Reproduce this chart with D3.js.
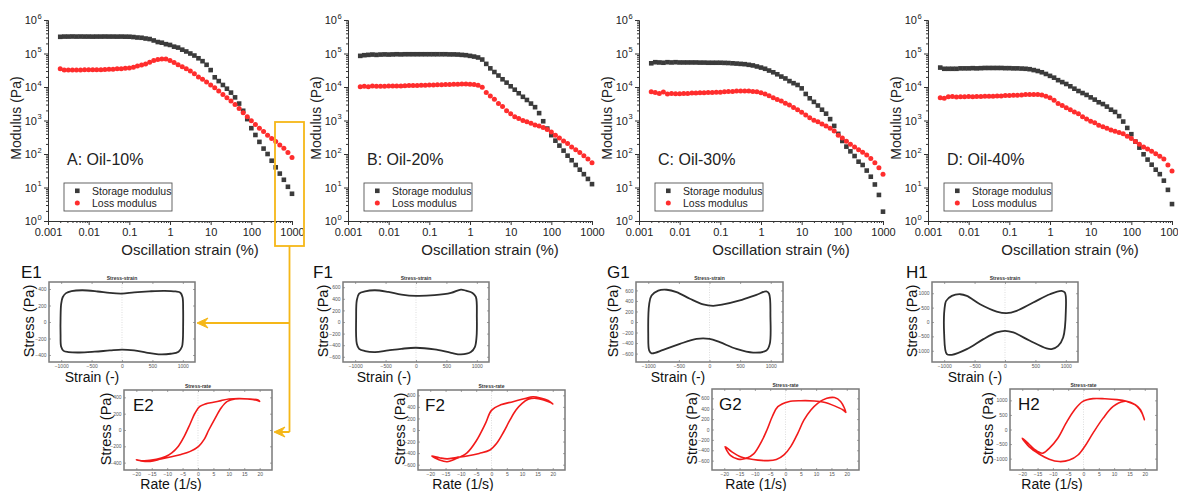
<!DOCTYPE html>
<html>
<head>
<meta charset="utf-8">
<script src="https://cdn.jsdelivr.net/npm/d3@7"></script>
<style>
  body { margin: 0; background: #fff; }
  svg { display: block; font-family: "Liberation Sans", Arial, sans-serif; }
</style>
</head>
<body>
<svg id="fig" width="1178" height="491"></svg>
<script>
// ---- amplitude sweep data (strain in %, moduli in Pa) ----
var strain = [0.002, 0.00251, 0.00316, 0.00398, 0.00501, 0.00631, 0.00794, 0.01, 0.0126, 0.0158,
  0.02, 0.0251, 0.0316, 0.0398, 0.0501, 0.0631, 0.0794, 0.1, 0.126, 0.158,
  0.2, 0.251, 0.316, 0.398, 0.501, 0.631, 0.794, 1, 1.26, 1.58,
  2, 2.51, 3.16, 3.98, 5.01, 6.31, 7.94, 10, 12.6, 15.8,
  20, 25.1, 31.6, 39.8, 50.1, 63.1, 79.4, 100, 126, 158,
  200, 251, 316, 398, 501, 631, 794, 1000];

var storageA = [3.15e5, 3.2e5, 3.2e5, 3.22e5, 3.2e5, 3.21e5, 3.2e5, 3.2e5, 3.19e5, 3.2e5,
  3.2e5, 3.21e5, 3.2e5, 3.2e5, 3.19e5, 3.2e5, 3.18e5, 3.17e5, 3.1e5, 3.0e5,
  2.95e5, 2.8e5, 2.7e5, 2.45e5, 2.2e5, 2.1e5, 1.9e5, 1.8e5, 1.6e5, 1.5e5,
  1.3e5, 1.15e5, 1.0e5, 8.7e4, 7.2e4, 5.9e4, 4.6e4, 3.2e4, 1.95e4, 1.5e4,
  1.15e4, 8.9e3, 6.8e3, 4.9e3, 3.2e3, 1.95e3, 1.1e3, 590, 370, 230,
  145, 100, 63, 40, 26, 17, 10.5, 6.5];
var lossA = [3.5e4, 3.2e4, 3.2e4, 3.2e4, 3.2e4, 3.2e4, 3.25e4, 3.3e4, 3.3e4, 3.3e4,
  3.3e4, 3.35e4, 3.4e4, 3.4e4, 3.5e4, 3.5e4, 3.6e4, 3.7e4, 3.9e4, 4.2e4,
  4.5e4, 4.9e4, 5.5e4, 6.2e4, 6.6e4, 6.9e4, 6.8e4, 6.2e4, 5.4e4, 4.6e4,
  4.0e4, 3.5e4, 3.0e4, 2.5e4, 2.0e4, 1.7e4, 1.4e4, 1.15e4, 9.5e3, 7.6e3,
  6.0e3, 4.8e3, 3.8e3, 3.0e3, 2.3e3, 1.7e3, 1.3e3, 980, 760, 590,
  470, 360, 290, 235, 186, 148, 110, 78];

var storageB = [8.5e4, 8.9e4, 9.1e4, 9.3e4, 9.1e4, 9.3e4, 9.4e4, 9.3e4, 9.4e4, 9.5e4,
  9.4e4, 9.5e4, 9.5e4, 9.5e4, 9.5e4, 9.5e4, 9.5e4, 9.5e4, 9.5e4, 9.5e4,
  9.5e4, 9.5e4, 9.4e4, 9.4e4, 9.3e4, 9.1e4, 8.9e4, 8.5e4, 8.1e4, 7.6e4,
  6.6e4, 4.9e4, 3.6e4, 2.8e4, 2.2e4, 1.7e4, 1.35e4, 1.05e4, 8.3e3, 6.5e3,
  5.1e3, 4.1e3, 3.2e3, 2.5e3, 1.66e3, 950, 575, 365, 250, 178,
  126, 89, 65, 47, 34, 25, 18, 12.6];
var lossB = [1.02e4, 1.05e4, 1.02e4, 1.07e4, 1.05e4, 1.06e4, 1.05e4, 1.07e4, 1.08e4, 1.07e4,
  1.08e4, 1.09e4, 1.1e4, 1.1e4, 1.11e4, 1.12e4, 1.13e4, 1.14e4, 1.15e4, 1.16e4,
  1.17e4, 1.18e4, 1.19e4, 1.2e4, 1.21e4, 1.22e4, 1.22e4, 1.21e4, 1.18e4, 1.13e4,
  9.8e3, 6.8e3, 5.4e3, 4.3e3, 3.2e3, 2.6e3, 1.95e3, 1.6e3, 1.3e3, 1.15e3,
  1.0e3, 910, 830, 740, 690, 620, 540, 450, 360, 300,
  245, 205, 162, 135, 110, 89, 71, 55];

var storageC = [5.1e4, 5.5e4, 5.4e4, 5.3e4, 5.5e4, 5.4e4, 5.5e4, 5.4e4, 5.4e4, 5.4e4,
  5.4e4, 5.4e4, 5.35e4, 5.35e4, 5.3e4, 5.3e4, 5.3e4, 5.3e4, 5.25e4, 5.2e4,
  5.1e4, 5.0e4, 4.9e4, 4.8e4, 4.6e4, 4.4e4, 4.1e4, 3.8e4, 3.5e4, 3.1e4,
  2.75e4, 2.4e4, 2.05e4, 1.8e4, 1.5e4, 1.3e4, 1.15e4, 9.1e3, 6.2e3, 4.6e3,
  3.6e3, 2.8e3, 2.1e3, 1.6e3, 1.1e3, 690, 400, 245, 166, 120,
  87, 59, 47, 32, 21, 12.3, 6.0, 1.9];
var lossC = [7.2e3, 6.8e3, 6.4e3, 7.1e3, 6.2e3, 6.4e3, 6.3e3, 6.3e3, 6.4e3, 6.4e3,
  6.6e3, 6.6e3, 6.7e3, 6.7e3, 6.9e3, 6.9e3, 7.0e3, 7.0e3, 7.2e3, 7.4e3,
  7.4e3, 7.6e3, 7.6e3, 7.6e3, 7.6e3, 7.4e3, 7.2e3, 6.7e3, 6.2e3, 5.5e3,
  4.8e3, 4.2e3, 3.8e3, 3.3e3, 2.9e3, 2.45e3, 2.1e3, 1.75e3, 1.45e3, 1.2e3,
  1.02e3, 910, 790, 680, 590, 490, 360, 300, 240, 195,
  162, 135, 112, 93, 74, 55, 39, 25];

var storageD = [3.8e4, 3.5e4, 3.5e4, 3.5e4, 3.5e4, 3.6e4, 3.6e4, 3.6e4, 3.65e4, 3.6e4,
  3.65e4, 3.7e4, 3.7e4, 3.7e4, 3.7e4, 3.7e4, 3.65e4, 3.65e4, 3.6e4, 3.6e4,
  3.55e4, 3.5e4, 3.4e4, 3.2e4, 3.0e4, 2.75e4, 2.45e4, 2.15e4, 1.9e4, 1.6e4,
  1.4e4, 1.23e4, 1.05e4, 8.9e3, 7.6e3, 6.6e3, 5.8e3, 4.9e3, 4.2e3, 3.5e3,
  3.1e3, 2.6e3, 2.1e3, 1.8e3, 1.35e3, 930, 600, 390, 235, 155,
  98, 68, 48, 34, 25, 16, 8.5, 3.2];
var lossD = [4.8e3, 4.6e3, 5.1e3, 5.2e3, 5.0e3, 5.1e3, 5.1e3, 5.2e3, 5.1e3, 5.2e3,
  5.2e3, 5.3e3, 5.3e3, 5.3e3, 5.4e3, 5.4e3, 5.6e3, 5.6e3, 5.7e3, 5.7e3,
  5.8e3, 6.0e3, 6.0e3, 6.0e3, 6.0e3, 5.8e3, 5.3e3, 4.8e3, 4.0e3, 3.2e3,
  2.8e3, 2.4e3, 2.1e3, 1.8e3, 1.6e3, 1.3e3, 1.1e3, 950, 850, 720,
  650, 590, 520, 480, 440, 400, 340, 290, 235, 195,
  162, 141, 120, 102, 85, 71, 47, 31];

// ---- Lissajous loops: [x, stress (Pa)] ----
var loopE1 = [[-1000,-300],[-1010,-150],[-1010,50],[-1000,220],[-975,300],[-920,350],[-830,375],[-650,385],
  [-400,370],[-200,352],[0,345],[200,360],[450,372],[700,378],[880,370],[960,355],[995,300],[1005,150],
  [1005,-50],[1000,-220],[985,-300],[930,-360],[800,-385],[600,-392],[400,-370],[200,-345],[0,-335],
  [-200,-345],[-450,-360],[-700,-370],[-880,-365],[-960,-350]];
var loopF1 = [[-973,-375],[-984,87],[-973,375],[-935,490],[-837,530],[-674,548],[-457,519],[-239,473],
  [0,450],[304,462],[576,502],[739,560],[821,540],[929,502],[984,433],[1000,87],[995,-260],[967,-433],
  [902,-519],[739,-560],[576,-531],[304,-473],[0,-444],[-239,-462],[-457,-490],[-674,-519],[-837,-502],[-935,-462]];
var loopG1 = [[-1000,-225],[-984,346],[-946,502],[-837,597],[-700,613],[-538,568],[-320,441],[-103,333],
  [60,308],[223,333],[495,409],[766,517],[929,581],[973,537],[995,92],[984,-416],[929,-543],[712,-581],
  [440,-511],[168,-384],[0,-321],[-212,-321],[-484,-416],[-755,-530],[-946,-594],[-984,-543]];
var loopH1 = [[-1000,-422],[-984,618],[-967,734],[-874,907],[-738,965],[-628,907],[-410,618],[-137,364],
  [27,306],[191,387],[464,676],[738,965],[929,1081],[984,1023],[1000,387],[956,-538],[874,-827],[765,-942],
  [683,-919],[410,-653],[137,-364],[0,-306],[-137,-364],[-355,-595],[-628,-942],[-874,-1139],[-956,-1116]];

var loopE2 = [[-20,-365],[-17.5,-378],[-13.5,-360],[-10.5,-325],[-8.5,-280],[-6.5,-205],[-4.5,-80],[-2.5,80],
  [-1,205],[0.5,285],[2.5,320],[5,340],[7.5,360],[10,380],[13.5,385],[17,378],[19.5,368],[20,350],[19,365],
  [16,380],[12,380],[9.5,350],[7.5,270],[5.5,140],[3.5,0],[2,-115],[0.2,-200],[-2.5,-262],[-5.5,-300],
  [-9,-330],[-12,-355],[-15.5,-385],[-18.5,-378]];
var loopF2 = [[-19.5,-450],[-17,-520],[-14.5,-550],[-11.5,-495],[-8,-395],[-5,-190],[-2,110],[0,340],[3,435],
  [7,490],[11,545],[13.5,575],[16,555],[18.5,510],[20,450],[19.5,470],[17,520],[14,550],[12,530],[10,460],
  [8,345],[6,170],[4,-30],[1.7,-230],[-0.5,-345],[-4,-405],[-8,-450],[-11.5,-475],[-14.5,-500],[-17,-480]];
var loopG2 = [[-19.7,-330],[-17.5,-430],[-14.5,-530],[-12,-565],[-9,-590],[-6,-600],[-3,-580],[-0.5,-490],
  [1.7,-330],[4,-75],[6,180],[8.3,375],[10.5,505],[13.5,600],[16,615],[18,540],[19.7,330],[18.7,380],
  [16,455],[12.6,525],[9.4,550],[5,555],[1,535],[-2.5,440],[-4.3,250],[-6,0],[-7.6,-205],[-10.4,-470],
  [-13,-560],[-15.5,-570],[-18,-500]];
var loopH2 = [[-20,-300],[-17.8,-590],[-14.5,-840],[-11.2,-1020],[-7.9,-1100],[-4.6,-1050],[-1.8,-875],
  [0.4,-585],[3.1,-125],[6.4,390],[9.7,790],[13.1,965],[15.3,935],[17.5,795],[19.1,565],[19.9,335],
  [18.6,680],[16.9,850],[14.1,965],[10.9,1025],[7,1055],[3.1,1060],[-0.2,965],[-2.9,680],[-5.7,220],
  [-8.4,-300],[-11.2,-645],[-13.4,-815],[-16,-680],[-18,-480]];

// ---- tick values / labels ----
var xMajors = [0.001, 0.01, 0.1, 1, 10, 100, 1000];
var yMajors = [1, 10, 100, 1000, 1e4, 1e5, 1e6];
var yExpLabels = ["0", "1", "2", "3", "4", "5", "6"];
var strainTicks = [-1000, -500, 0, 500, 1000];
var rateTicks = [-20, -15, -10, -5, 0, 5, 10, 15, 20];
var stressTicks400 = [-400, -200, 0, 200, 400];
var stressTicks600 = [-600, -400, -200, 0, 200, 400, 600];
var stressTicks1000 = [-1000, -500, 0, 500, 1000];

var svg = d3.select("#fig");
var dark = "#3b3b3b", red = "#ff2d2d", gold = "#f5b718";

function drawModulus(p) {
  var x = d3.scaleLog().domain([0.001, 1000]).range([p.left, p.left + 244]);
  var y = d3.scaleLog().domain([1, 1e6]).range([221, 20]);
  var g = svg.append("g");

  var minorX = [], minorY = [];
  xMajors.slice(0, -1).forEach(function(d) { for (var k = 2; k < 10; k++) minorX.push(d * k); });
  yMajors.slice(0, -1).forEach(function(d) { for (var k = 2; k < 10; k++) minorY.push(d * k); });

  g.append("g").attr("transform", "translate(0,221)")
    .call(d3.axisBottom(x).tickValues(minorX).tickSize(2).tickSizeOuter(0).tickFormat(""));
  var xa = g.append("g").attr("transform", "translate(0,221)")
    .call(d3.axisBottom(x).tickValues(xMajors).tickSize(4).tickSizeOuter(0).tickPadding(3).tickFormat(d3.format("~g")));
  xa.selectAll("text").attr("font-size", 11).attr("font-family", "Liberation Sans, Arial, sans-serif").attr("fill", "#222");

  g.append("g").attr("transform", "translate(" + p.left + ",0)")
    .call(d3.axisLeft(y).tickValues(minorY).tickSize(2).tickSizeOuter(0).tickFormat(""));
  g.append("g").attr("transform", "translate(" + p.left + ",0)")
    .call(d3.axisLeft(y).tickValues(yMajors).tickSize(4).tickSizeOuter(0).tickFormat(""));
  g.selectAll("path.domain, line").attr("stroke", "#333");

  // "10" and its exponent as two neighbouring texts
  yMajors.forEach(function(v, i) {
    g.append("text").attr("x", p.left - 11).attr("y", y(v) + 4)
      .attr("text-anchor", "end").attr("font-size", 11).attr("fill", "#222").text("10");
    g.append("text").attr("x", p.left - 10.5).attr("y", y(v) - 1.5)
      .attr("font-size", 7.5).attr("fill", "#222").text(yExpLabels[i]);
  });

  g.append("g").selectAll("rect").data(strain).join("rect")
    .attr("x", function(d) { return x(d) - 2.3; })
    .attr("y", function(d, i) { return y(p.storage[i]) - 2.3; })
    .attr("width", 4.6).attr("height", 4.6).attr("fill", dark);
  g.append("g").selectAll("circle").data(strain).join("circle")
    .attr("cx", function(d) { return x(d); })
    .attr("cy", function(d, i) { return y(p.loss[i]); })
    .attr("r", 2.5).attr("fill", red);

  // legend
  g.append("rect").attr("x", p.left + 16).attr("y", 183).attr("width", 108).attr("height", 28)
    .attr("fill", "#fff").attr("stroke", "#555").attr("stroke-width", 0.9);
  g.append("rect").attr("x", p.left + 27).attr("y", 188.5).attr("width", 4.6).attr("height", 4.6).attr("fill", dark);
  g.append("circle").attr("cx", p.left + 29.3).attr("cy", 203).attr("r", 2.5).attr("fill", red);
  g.append("text").attr("x", p.left + 44).attr("y", 195).attr("font-size", 10.5).attr("fill", "#222").text("Storage modulus");
  g.append("text").attr("x", p.left + 44).attr("y", 207).attr("font-size", 10.5).attr("fill", "#222").text("Loss modulus");

  g.append("text").attr("x", p.left + 19).attr("y", 165).attr("font-size", 16).attr("fill", "#222").text(p.label);

  g.append("text").attr("transform", "translate(" + (p.left - 32) + ",118) rotate(-90)")
    .attr("text-anchor", "middle").attr("dy", "0.35em").attr("font-size", 14).attr("fill", "#222")
    .text("Modulus (Pa)");
  g.append("text").attr("x", p.left + 142).attr("y", 255).attr("text-anchor", "middle")
    .attr("font-size", 15).attr("fill", "#222").text("Oscillation strain (%)");
}

function drawLoop(p) {
  var x = d3.scaleLinear().domain(p.xDom).range([p.x0, p.x1]);
  var y = d3.scaleLinear().domain(p.yDom).range([p.y1, p.y0]);
  var g = svg.append("g");

  g.append("line").attr("x1", x(0)).attr("x2", x(0)).attr("y1", p.y0).attr("y2", p.y1)
    .attr("stroke", "#c8c8c8").attr("stroke-width", 0.6).attr("stroke-dasharray", "1,1.5");

  var line = d3.line().x(function(d) { return x(d[0]); }).y(function(d) { return y(d[1]); })
    .curve(d3.curveCatmullRomClosed.alpha(0.5));
  g.append("path").datum(p.loop).attr("d", line).attr("fill", "none")
    .attr("stroke", p.color).attr("stroke-width", p.sw).attr("stroke-linejoin", "round");

  var axes = [
    [d3.axisBottom(x).tickValues(p.xTicks), "translate(0," + p.y1 + ")", true],
    [d3.axisTop(x).tickValues(p.xTicks), "translate(0," + p.y0 + ")", false],
    [d3.axisLeft(y).tickValues(p.yTicks), "translate(" + p.x0 + ",0)", true],
    [d3.axisRight(y).tickValues(p.yTicks), "translate(" + p.x1 + ",0)", false]
  ];
  axes.forEach(function(a) {
    var ax = a[0].tickSize(-2).tickSizeOuter(0).tickPadding(2.5)
      .tickFormat(a[2] ? d3.format("d") : "");
    var ag = g.append("g").attr("transform", a[1]).call(ax);
    ag.select(".domain").remove();
    ag.selectAll("line").attr("stroke", "#666").attr("stroke-width", 0.6);
    ag.selectAll("text").attr("font-size", 5).attr("fill", "#555");
  });

  g.append("rect").attr("x", p.x0).attr("y", p.y0).attr("width", p.x1 - p.x0).attr("height", p.y1 - p.y0)
    .attr("fill", "none").attr("stroke", "#7a7a7a").attr("stroke-width", 1.5);

  g.append("text").attr("x", (p.x0 + p.x1) / 2).attr("y", p.y0 - 2.5).attr("text-anchor", "middle")
    .attr("font-size", 5).attr("font-weight", "bold").attr("fill", "#333").text(p.title);

  g.append("text").attr("x", p.tagX).attr("y", p.tagY).attr("font-size", 17).attr("fill", "#111").text(p.tag);
  g.append("text").attr("transform", "translate(" + p.ylabX + "," + ((p.y0 + p.y1) / 2 - 1) + ") rotate(-90)")
    .attr("text-anchor", "middle").attr("dy", "0.35em").attr("font-size", 14.5).attr("fill", "#111")
    .text("Stress (Pa)");
  g.append("text").attr("x", p.xlabX).attr("y", p.xlabY).attr("text-anchor", "middle")
    .attr("font-size", 14).attr("fill", "#111").text(p.xlab);
}

drawModulus({ left: 48, label: "A: Oil-10%", storage: storageA, loss: lossA });
drawModulus({ left: 348, label: "B: Oil-20%", storage: storageB, loss: lossB });
drawModulus({ left: 639, label: "C: Oil-30%", storage: storageC, loss: lossC });
drawModulus({ left: 928, label: "D: Oil-40%", storage: storageD, loss: lossD });

var strainDom = [-1200, 1200], rateDom = [-24, 24];
var loops = [
  { x0: 49, x1: 195, y0: 282, y1: 362, xDom: strainDom, yDom: [-485, 485], xTicks: strainTicks, yTicks: stressTicks400,
    loop: loopE1, color: "#2e2e2e", sw: 1.8, title: "Stress-strain", tag: "E1", tagX: 21, tagY: 278, ylabX: 29, xlab: "Strain (-)", xlabX: 92, xlabY: 382 },
  { x0: 343, x1: 489, y0: 282, y1: 362, xDom: strainDom, yDom: [-690, 690], xTicks: strainTicks, yTicks: stressTicks600,
    loop: loopF1, color: "#2e2e2e", sw: 1.8, title: "Stress-strain", tag: "F1", tagX: 313, tagY: 278, ylabX: 323, xlab: "Strain (-)", xlabX: 384, xlabY: 382 },
  { x0: 636, x1: 783, y0: 282, y1: 362, xDom: strainDom, yDom: [-760, 760], xTicks: strainTicks, yTicks: stressTicks600,
    loop: loopG1, color: "#2e2e2e", sw: 1.8, title: "Stress-strain", tag: "G1", tagX: 607, tagY: 278, ylabX: 613, xlab: "Strain (-)", xlabX: 678, xlabY: 382 },
  { x0: 932, x1: 1078, y0: 282, y1: 362, xDom: strainDom, yDom: [-1390, 1390], xTicks: strainTicks, yTicks: stressTicks1000,
    loop: loopH1, color: "#2e2e2e", sw: 1.8, title: "Stress-strain", tag: "H1", tagX: 906, tagY: 278, ylabX: 912, xlab: "Strain (-)", xlabX: 975, xlabY: 382 },
  { x0: 124, x1: 272, y0: 390, y1: 470, xDom: rateDom, yDom: [-490, 490], xTicks: rateTicks, yTicks: stressTicks400,
    loop: loopE2, color: "#f21a1a", sw: 1.6, title: "Stress-rate", tag: "E2", tagX: 133, tagY: 411, ylabX: 106, xlab: "Rate (1/s)", xlabX: 171, xlabY: 489 },
  { x0: 418, x1: 565, y0: 390, y1: 470, xDom: rateDom, yDom: [-692, 692], xTicks: rateTicks, yTicks: stressTicks600,
    loop: loopF2, color: "#f21a1a", sw: 1.6, title: "Stress-rate", tag: "F2", tagX: 425, tagY: 411, ylabX: 400, xlab: "Rate (1/s)", xlabX: 463, xlabY: 489 },
  { x0: 712, x1: 859, y0: 389, y1: 470, xDom: rateDom, yDom: [-780, 780], xTicks: rateTicks, yTicks: stressTicks600,
    loop: loopG2, color: "#f21a1a", sw: 1.6, title: "Stress-rate", tag: "G2", tagX: 719, tagY: 410, ylabX: 692, xlab: "Rate (1/s)", xlabX: 756, xlabY: 489 },
  { x0: 1010, x1: 1157, y0: 389, y1: 470, xDom: rateDom, yDom: [-1390, 1390], xTicks: rateTicks, yTicks: stressTicks1000,
    loop: loopH2, color: "#f21a1a", sw: 1.6, title: "Stress-rate", tag: "H2", tagX: 1018, tagY: 410, ylabX: 988, xlab: "Rate (1/s)", xlabX: 1052, xlabY: 489 }
];
loops.forEach(drawLoop);

// ---- gold call-out from panel A to E1 / E2 ----
var ann = svg.append("g").attr("stroke", gold).attr("stroke-width", 1.8).attr("fill", "none");
ann.append("rect").attr("x", 275).attr("y", 122).attr("width", 29).attr("height", 124);
ann.append("path").attr("d", "M289.5,246 V432 M289.5,323 H200 M289.5,432 H277");
function arrowHead(tx, ty) {
  return "M" + tx + "," + ty + " L" + (tx + 11) + "," + (ty - 5) + " L" + (tx + 7) + "," + ty +
    " L" + (tx + 11) + "," + (ty + 5) + " Z";
}
ann.append("path").attr("d", arrowHead(197, 323)).attr("fill", gold).attr("stroke-width", 1);
ann.append("path").attr("d", arrowHead(274, 432)).attr("fill", gold).attr("stroke-width", 1);
</script>
</body>
</html>
